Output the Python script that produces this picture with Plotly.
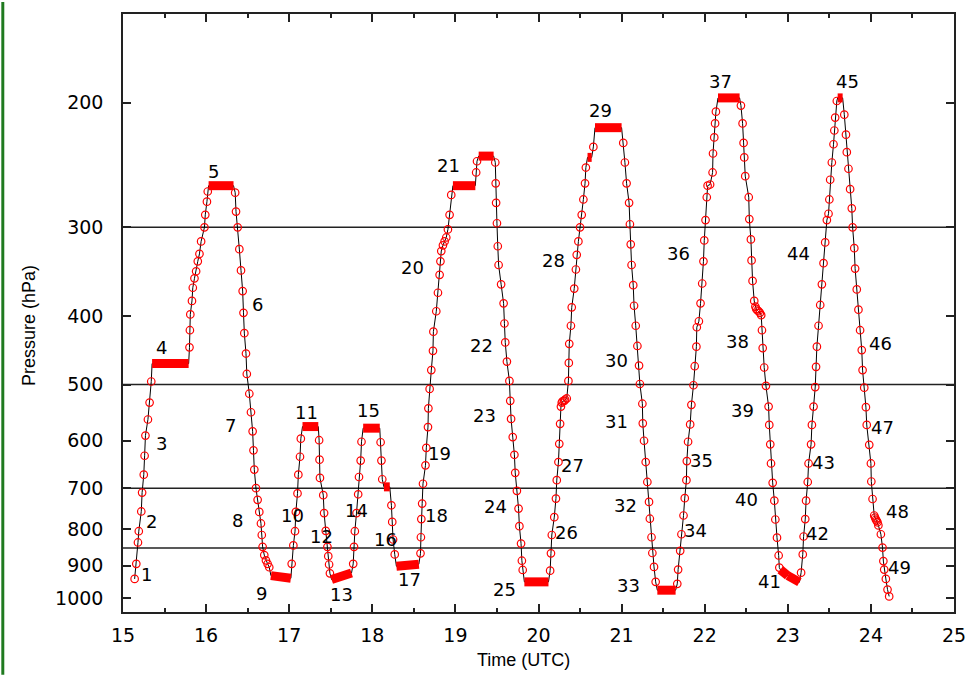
import math
import plotly.graph_objects as go

# ---------------- data ----------------
# aircraft profile samples: time (UTC hours) and pressure (hPa)
time_h = [
    15.14, 15.16, 15.18, 15.19, 15.22, 15.23, 15.25, 15.26, 15.27, 15.30, 15.32, 15.34,
    15.80, 15.805, 15.81, 15.83, 15.84, 15.86, 15.88, 15.90, 15.92, 15.94, 15.98, 15.99, 16.01, 16.02,
    16.35, 16.36, 16.38, 16.40, 16.42, 16.44, 16.45, 16.46, 16.48, 16.49, 16.52, 16.54, 16.56, 16.57,
    16.58, 16.60, 16.62, 16.64, 16.66, 16.67, 16.68, 16.70, 16.72, 16.74, 16.76,
    17.03, 17.05, 17.07, 17.08, 17.10, 17.11, 17.13, 17.14,
    17.36, 17.365, 17.37, 17.41, 17.42, 17.44, 17.46, 17.47, 17.48, 17.49,
    17.77, 17.78, 17.79, 17.81, 17.83, 17.84, 17.86, 17.87,
    18.10, 18.11, 18.12,
    18.23, 18.24, 18.25, 18.27,
    18.58, 18.585, 18.59, 18.60, 18.61, 18.64, 18.65, 18.67, 18.675, 18.69, 18.71, 18.73, 18.735,
    18.77, 18.79, 18.81, 18.82, 18.83, 18.85, 18.87, 18.89, 18.91, 18.93, 18.95,
    19.25, 19.26,
    19.48, 19.485, 19.49, 19.50, 19.51, 19.52, 19.55, 19.58, 19.59, 19.60, 19.62, 19.65, 19.66, 19.67,
    19.69, 19.71, 19.72, 19.74, 19.76, 19.77, 19.79, 19.80, 19.81,
    20.14, 20.15, 20.16, 20.19, 20.21, 20.22, 20.24, 20.25, 20.26, 20.27, 20.28, 20.29, 20.31, 20.32,
    20.34, 20.36, 20.365, 20.37, 20.39, 20.40, 20.43, 20.45, 20.46, 20.48, 20.50, 20.52, 20.54, 20.56,
    20.57, 20.66,
    21.02, 21.04, 21.06, 21.09, 21.10, 21.11, 21.12, 21.14, 21.15, 21.17, 21.19, 21.21, 21.22, 21.25,
    21.255, 21.27, 21.29, 21.31, 21.33, 21.34, 21.36, 21.37, 21.39, 21.41,
    21.67, 21.68, 21.705, 21.72, 21.745, 21.76, 21.78, 21.785, 21.80, 21.825, 21.84, 21.865, 21.88,
    21.90, 21.905, 21.93, 21.95, 21.97, 21.985, 21.995, 22.01, 22.025, 22.035, 22.065, 22.095, 22.10,
    22.115, 22.125, 22.135,
    22.436, 22.456, 22.468, 22.476, 22.488, 22.53, 22.537, 22.556, 22.564, 22.576, 22.596, 22.61,
    22.62, 22.635, 22.65, 22.665, 22.68, 22.689, 22.698, 22.716, 22.737, 22.769, 22.777, 22.789,
    22.798, 22.818, 22.838, 22.85, 22.87, 22.89, 22.898,
    23.16, 23.18, 23.19, 23.21, 23.22, 23.24, 23.25, 23.28, 23.29, 23.31, 23.33, 23.34, 23.35, 23.37,
    23.39, 23.41, 23.43, 23.45, 23.47, 23.49, 23.50, 23.51, 23.53, 23.55, 23.56, 23.57, 23.59,
    23.68, 23.70, 23.71, 23.73, 23.75, 23.77, 23.78, 23.80, 23.81, 23.83, 23.85, 23.87, 23.89, 23.90,
    23.92, 23.94, 23.95, 23.98, 24.00, 24.005, 24.02, 24.04, 24.05, 24.06, 24.07, 24.08, 24.09,
    24.12, 24.14, 24.15, 24.16, 24.18, 24.20, 24.22,
]
pressure_hpa = [
    940, 895, 835, 805, 755, 710, 670, 630, 590, 560, 530, 495,
    443, 419, 398, 381, 365, 354, 346, 335, 327, 314, 300, 288, 276, 267,
    268, 285, 300, 322, 345, 369, 396, 423, 452, 483, 515, 547, 582, 619,
    659, 700, 727, 756, 785, 815, 847, 870, 885, 895, 905,
    895, 843, 805, 756, 712, 670, 632, 596,
    599, 638, 677, 716, 759, 804, 847, 873, 897, 923,
    895, 847, 805, 759, 714, 675, 640, 602,
    603, 640, 680,
    740, 781, 827, 868,
    865, 821, 774, 736, 690, 650, 614, 574, 540, 507, 477, 448, 421,
    394, 371, 350, 335, 324, 318, 314, 310, 302, 288, 270,
    251, 242,
    243, 260, 277, 296, 319, 339, 361, 384, 410, 436, 464, 494, 527, 559,
    593, 628, 666, 706, 748, 792, 838, 886, 913,
    915, 865, 815, 769, 724, 682, 643, 606, 568, 537, 530, 528, 527, 525,
    523, 494, 466, 438, 413, 389, 366, 344, 328, 314, 300, 288, 274, 260,
    247, 231,
    228, 243, 260, 277, 297, 317, 339, 362, 387, 413, 441, 470, 499, 532,
    567, 600, 643, 686, 732, 773, 821, 864, 904, 949,
    955, 912, 858, 813, 765, 723, 682, 641, 602, 569, 534, 501, 471,
    442, 415, 407, 384, 360, 335, 313, 293, 272, 262, 261, 251, 236,
    224, 214, 206,
    202, 214, 228, 239, 254, 272, 292, 312, 334, 357, 381, 388,
    391, 393, 394, 396, 399, 419, 444, 473, 502, 537, 570, 607,
    646, 688, 729, 775, 822, 871, 906,
    921, 868, 819, 774, 729, 686, 646, 607, 570, 537, 504, 472, 442, 413,
    386, 361, 337, 315, 293, 287, 274, 257, 243, 229, 219, 210, 199,
    208, 222, 235, 248, 265, 282, 300, 321, 343, 367, 392, 419, 447, 477,
    505, 538, 570, 608, 646, 685, 725, 765, 770, 775, 778, 782, 790,
    813, 849, 887, 912, 940, 973, 995,
]

# level flight legs: start/end time (UTC h) and start/end pressure (hPa)
level_t_start = [15.35, 16.03, 16.78, 17.16, 17.51, 17.89, 18.14, 18.29, 18.97, 19.28, 19.83,
                 20.59, 20.68, 21.43, 22.16, 22.91, 23.00, 23.60]
level_t_end = [15.79, 16.33, 17.02, 17.35, 17.75, 18.09, 18.21, 18.56, 19.24, 19.46, 20.12,
               20.64, 21.00, 21.65, 22.42, 23.00, 23.14, 23.66]
level_p_start = [467, 262, 930, 573, 942, 576, 697, 902, 262, 238, 949,
                 239, 217, 975, 197, 912, 930, 197]
level_p_end = [467, 262, 938, 573, 922, 576, 697, 896, 262, 238, 949,
               239, 217, 975, 197, 930, 950, 197]

# reference pressure levels drawn as horizontal lines (hPa) and their start time
ref_levels = [300, 500, 700, 850]
ref_level_start = [15.0, 14.92, 15.0, 14.92]

# leg number labels: text, time (UTC h), pressure (hPa)
leg_labels = [str(i) for i in range(1, 50)]
leg_label_t = [15.282, 15.342, 15.461, 15.461, 16.095, 16.623, 16.294, 16.381, 16.670, 17.039,
               17.206, 17.385, 17.635, 17.810, 17.952, 18.158, 18.449, 18.774, 18.813, 18.488,
               18.913, 19.310, 19.349, 19.480, 19.587, 20.342, 20.408, 20.179, 20.750, 20.937,
               20.937, 21.044, 21.087, 21.889, 21.956, 21.690, 22.190, 22.393, 22.452, 22.504,
               22.774, 23.357, 23.425, 23.131, 23.714, 24.111, 24.139, 24.321, 24.349]
leg_label_p = [928, 781, 605, 443, 250, 385, 571, 777, 985, 765,
               547, 820, 990, 752, 544, 827, 943, 765, 626, 342,
               245, 441, 553, 744, 972, 809, 650, 334, 205, 462,
               563, 740, 959, 803, 640, 327, 187, 434, 544, 727,
               949, 811, 643, 327, 187, 438, 574, 756, 905]

x_ticks = list(range(15, 26))
y_ticks = [200, 300, 400, 500, 600, 700, 800, 900, 1000]

# ---------------- figure ----------------
pts = list(zip(time_h, pressure_hpa))
for t0, t1, p0, p1 in zip(level_t_start, level_t_end, level_p_start, level_p_end):
    pts.append((t0, p0))
    pts.append((t1, p1))
pts.sort(key=lambda v: v[0])
line_t = [v[0] for v in pts]
line_p = [v[1] for v in pts]

lev_x, lev_y = [], []
for t0, t1, p0, p1 in zip(level_t_start, level_t_end, level_p_start, level_p_end):
    lev_x += [t0, t1, None]
    lev_y += [p0, p1, None]

axis_col = "#222222"
fig = go.Figure()

ref_x, ref_y = [], []
for lv, t0 in zip(ref_levels, ref_level_start):
    ref_x += [t0, 25, None]
    ref_y += [lv, lv, None]
fig.add_trace(go.Scatter(x=ref_x, y=ref_y, mode="lines", cliponaxis=False,
                         line=dict(color=axis_col, width=1.5), hoverinfo="skip", showlegend=False))

fig.add_trace(go.Scatter(x=line_t, y=line_p, mode="lines",
                         line=dict(color="black", width=1), hoverinfo="skip", showlegend=False))
fig.add_trace(go.Scatter(x=time_h, y=pressure_hpa, mode="markers",
                         marker=dict(symbol="circle-open", color="red", size=7.5,
                                     line=dict(color="red", width=1.2)),
                         showlegend=False))
fig.add_trace(go.Scatter(x=lev_x, y=lev_y, mode="lines",
                         line=dict(color="red", width=9), showlegend=False, hoverinfo="skip"))

for txt, t, p in zip(leg_labels, leg_label_t, leg_label_p):
    fig.add_annotation(x=t, y=math.log10(p), text=txt, showarrow=False,
                       font=dict(family="DejaVu Sans", size=18, color="black"),
                       xanchor="center", yanchor="middle")

# axis titles
fig.add_annotation(xref="paper", yref="paper", x=(528 - 123) / 840, y=(612 - 660) / 600,
                   text="Time (UTC)", showarrow=False, xanchor="center", yanchor="middle",
                   font=dict(family="Liberation Sans", size=18, color="black"))
fig.add_annotation(xref="paper", yref="paper", x=(28 - 123) / 840, y=(612 - 325) / 600,
                   text="Pressure (hPa)", showarrow=False, textangle=-90,
                   xanchor="center", yanchor="middle",
                   font=dict(family="Liberation Sans", size=18, color="black"))

# green frame edge on the left of the page
fig.add_shape(type="rect", xref="paper", yref="paper",
              x0=-123 / 840, x1=-120 / 840, y0=-63 / 600, y1=1 + 12 / 600,
              fillcolor="#1f7a1f", line=dict(width=0), layer="above")

fig.update_layout(
    width=978, height=675,
    margin=dict(l=123, r=15, t=12, b=63),
    paper_bgcolor="white", plot_bgcolor="white",
    showlegend=False,
    xaxis=dict(range=[15, 25], tickmode="array", tickvals=x_ticks,
               ticktext=[str(v) for v in x_ticks],
               ticks="inside", ticklen=8, tickwidth=1.5, tickcolor=axis_col,
               minor=dict(dtick=0.5, tick0=15, ticks="inside", ticklen=4,
                          tickwidth=1.5, tickcolor=axis_col),
               showline=True, linecolor=axis_col, linewidth=1.5, mirror="ticks",
               showgrid=False, zeroline=False, ticklabelstandoff=5,
               tickfont=dict(family="DejaVu Sans", size=19, color="black")),
    yaxis=dict(type="log", range=[math.log10(1046.6), math.log10(150)],
               tickmode="array", tickvals=y_ticks, ticktext=[str(v) for v in y_ticks],
               ticks="inside", ticklen=8, tickwidth=1.5, tickcolor=axis_col,
               showline=True, linecolor=axis_col, linewidth=1.5, mirror="ticks",
               showgrid=False, zeroline=False, ticklabelstandoff=14,
               tickfont=dict(family="DejaVu Sans", size=19, color="black")),
)

fig.write_html("out.html", config={"displayModeBar": False},
               post_script="document.body.style.margin='0px';")
